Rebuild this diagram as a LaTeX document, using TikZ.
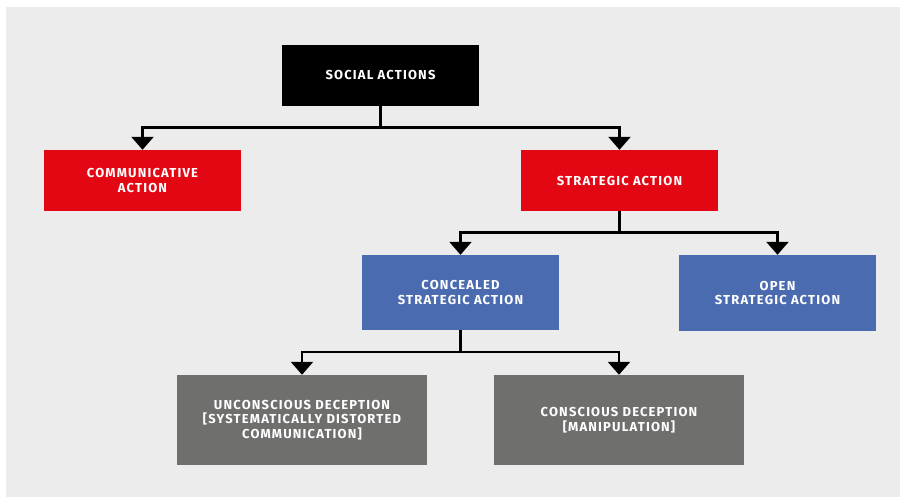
\documentclass[tikz,border=0pt]{standalone}
\usepackage{fontspec}
\setmainfont{Fira Sans}[UprightFont=* SemiBold, BoldFont=* Bold, LetterSpace=9]
\usetikzlibrary{arrows.meta}
\definecolor{bg}{HTML}{ECECEC}
\definecolor{cred}{HTML}{E30613}
\definecolor{cblue}{HTML}{4A6BB0}
\definecolor{cgray}{HTML}{6F6F6E}
\begin{document}
\begin{tikzpicture}[x=1pt,y=1pt,
  box/.style={draw=none,minimum width=197pt,inner sep=0pt,text=white,align=center,
    font=\fontsize{13}{14.5}\selectfont\bfseries},
  arr/.style={line width=2.5pt,-{Triangle[width=22pt,length=13pt]}}]
\useasboundingbox (0,0) rectangle (900,498);
\fill[bg] (6,1) rectangle (900,491);
\node[box,fill=black,minimum height=61pt] (soc) at (380.5,422.5) {SOCIAL ACTIONS};
\node[box,fill=cred,minimum height=61pt] (comm) at (142.5,317.5) {COMMUNICATIVE\\ACTION};
\node[box,fill=cred,minimum height=61pt] (strat) at (619.5,317.5) {STRATEGIC ACTION};
\node[box,fill=cblue,minimum height=75pt] (conc) at (460.5,205.5) {CONCEALED\\STRATEGIC ACTION};
\node[box,fill=cblue,minimum height=76pt] (open) at (777.5,205) {OPEN\\STRATEGIC ACTION};
\node[box,fill=cgray,minimum width=250pt,minimum height=90pt] (unc) at (302,78) {UNCONSCIOUS DECEPTION\\{[}SYSTEMATICALLY DISTORTED\\COMMUNICATION{]}};
\node[box,fill=cgray,minimum width=250pt,minimum height=90pt] (cons) at (619,78) {CONSCIOUS DECEPTION\\{[}MANIPULATION{]}};
\draw[arr] (soc.south) -- ++(0,-21.5) -| (comm.north);
\draw[arr] (soc.south) -- ++(0,-21.5) -| (strat.north);
\draw[arr] (strat.south) -- ++(0,-21.5) -| (conc.north);
\draw[arr] (strat.south) -- ++(0,-21.5) -| (open.north);
\draw[arr] (conc.south) -- ++(0,-22) -| (unc.north);
\draw[arr] (conc.south) -- ++(0,-22) -| (cons.north);
\end{tikzpicture}
\end{document}
